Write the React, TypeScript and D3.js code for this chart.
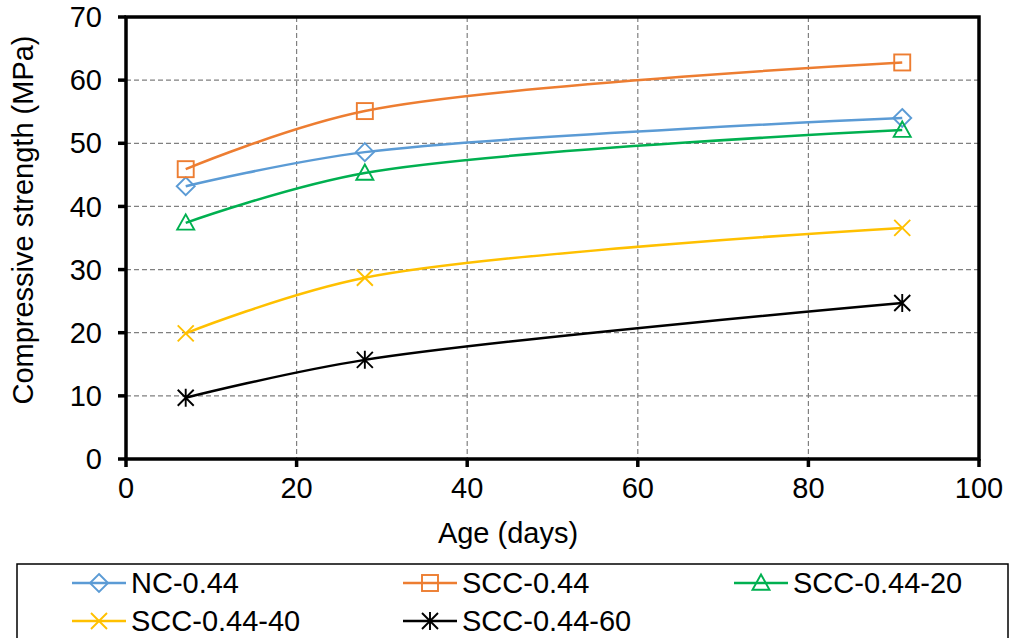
import React from "react";
import * as d3 from "d3";

const ages = [7, 28, 91];
const seriesNames = ["NC-0.44", "SCC-0.44", "SCC-0.44-20", "SCC-0.44-40", "SCC-0.44-60"];
const nc044 = [43.2, 48.6, 54.0];
const scc044 = [45.9, 55.1, 62.8];
const scc04420 = [37.4, 45.3, 52.1];
const scc04440 = [19.9, 28.7, 36.6];
const scc04460 = [9.7, 15.7, 24.7];
const colors = ["#5B9BD5", "#ED7D31", "#00B050", "#FFC000", "#000000"];
const markers = ["diamond", "square", "triangle", "x", "star"];
const xTicks = [0, 20, 40, 60, 80, 100];
const yTicks = [0, 10, 20, 30, 40, 50, 60, 70];

const allSeries = [nc044, scc044, scc04420, scc04440, scc04460];

function Marker({ type, x, y, color }: { type: string; x: number; y: number; color: string }) {
  const sw = 1.9;
  if (type === "diamond") {
    const r = 9;
    return <path d={`M${x},${y - r}L${x + r},${y}L${x},${y + r}L${x - r},${y}Z`} fill="none" stroke={color} strokeWidth={sw} />;
  }
  if (type === "square") {
    const r = 8;
    return <rect x={x - r} y={y - r} width={2 * r} height={2 * r} fill="none" stroke={color} strokeWidth={sw} />;
  }
  if (type === "triangle") {
    const r = 8.5;
    return <path d={`M${x},${y - r}L${x + r},${y + r * 0.8}L${x - r},${y + r * 0.8}Z`} fill="none" stroke={color} strokeWidth={sw} />;
  }
  if (type === "x") {
    const r = 8;
    return <path d={`M${x - r},${y - r}L${x + r},${y + r}M${x - r},${y + r}L${x + r},${y - r}`} stroke={color} strokeWidth={sw} />;
  }
  const r = 8;
  return (
    <path
      d={`M${x - r},${y - r}L${x + r},${y + r}M${x - r},${y + r}L${x + r},${y - r}M${x},${y - r - 1}L${x},${y + r + 1}`}
      stroke={color}
      strokeWidth={sw}
    />
  );
}

export default function App() {
  const W = 1011, H = 638;
  const left = 126, right = 979, top = 17, bottom = 459;
  const x = d3.scaleLinear().domain([0, 100]).range([left, right]);
  const y = d3.scaleLinear().domain([0, 70]).range([bottom, top]);
  const line = d3
    .line<number>()
    .x((_, i) => x(ages[i]))
    .y((d) => y(d))
    .curve(d3.curveCatmullRom.alpha(0.5));
  const font = "Arial, 'Liberation Sans', sans-serif";
  const fs = 29;

  const legendPos = [
    { lx: 72, ly: 583 },
    { lx: 403, ly: 583 },
    { lx: 734, ly: 583 },
    { lx: 72, ly: 621 },
    { lx: 403, ly: 621 },
  ];

  return (
    <svg width={W} height={H} style={{ position: "absolute", left: 0, top: 0 }} fontFamily={font}>
      <rect width={W} height={H} fill="white" />
      {xTicks.slice(1, -1).map((t) => (
        <line key={"gx" + t} x1={x(t)} x2={x(t)} y1={top} y2={bottom} stroke="#808080" strokeWidth={1.2} strokeDasharray="5,3" />
      ))}
      {yTicks.slice(1, -1).map((t) => (
        <line key={"gy" + t} x1={left} x2={right} y1={y(t)} y2={y(t)} stroke="#808080" strokeWidth={1.2} strokeDasharray="5,3" />
      ))}
      <rect x={left} y={top} width={right - left} height={bottom - top} fill="none" stroke="#000" strokeWidth={3.5} />
      {yTicks.map((t) => (
        <g key={"yt" + t}>
          <line x1={left - 8} x2={left} y1={y(t)} y2={y(t)} stroke="#000" strokeWidth={3.5} />
          <text x={left - 24} y={y(t)} dy="0.35em" textAnchor="end" fontSize={fs} fill="#000">
            {t}
          </text>
        </g>
      ))}
      {xTicks.map((t) => (
        <g key={"xt" + t}>
          <line x1={x(t)} x2={x(t)} y1={bottom} y2={bottom + 8} stroke="#000" strokeWidth={3.5} />
          <text x={x(t)} y={bottom + 39} textAnchor="middle" fontSize={fs} fill="#000">
            {t}
          </text>
        </g>
      ))}
      <text x={508} y={543} textAnchor="middle" fontSize={fs} fill="#000">
        Age (days)
      </text>
      <text transform={`translate(33,${(top + bottom) / 2 - 18}) rotate(-90)`} textAnchor="middle" fontSize={fs} fill="#000">
        Compressive strength (MPa)
      </text>
      {allSeries.map((s, i) => (
        <g key={"s" + i}>
          <path d={line(s) || ""} fill="none" stroke={colors[i]} strokeWidth={2.5} />
          {s.map((v, j) => (
            <Marker key={j} type={markers[i]} x={x(ages[j])} y={y(v)} color={colors[i]} />
          ))}
        </g>
      ))}
      <rect x={17} y={564} width={991} height={80} fill="white" stroke="#000" strokeWidth={1.5} />
      {seriesNames.map((n, i) => {
        const p = legendPos[i];
        return (
          <g key={"l" + i}>
            <line x1={p.lx} x2={p.lx + 54} y1={p.ly} y2={p.ly} stroke={colors[i]} strokeWidth={2.5} />
            <Marker type={markers[i]} x={p.lx + 27} y={p.ly} color={colors[i]} />
            <text x={p.lx + 59} y={p.ly} dy="0.35em" fontSize={fs} fill="#000">
              {n}
            </text>
          </g>
        );
      })}
    </svg>
  );
}
